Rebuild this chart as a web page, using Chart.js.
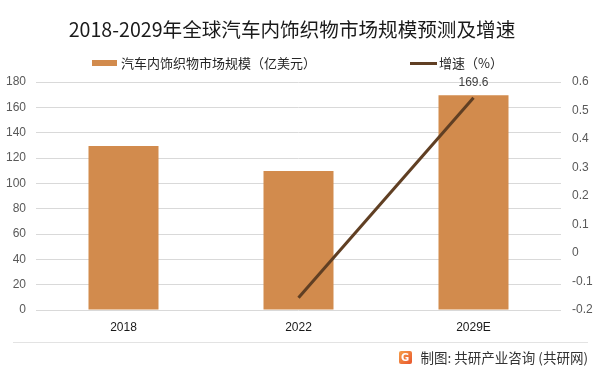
<!DOCTYPE html>
<html>
<head>
<meta charset="utf-8">
<script src="https://cdn.jsdelivr.net/npm/chart.js@4/dist/chart.umd.min.js"></script>
<style>
    body {
        margin: 0;
        background: #fff;
        font-family: "Noto Sans CJK SC", "Noto Sans", sans-serif;
    }

    .wrap {
        position: relative;
        width: 601px;
        height: 374px;
        overflow: hidden;
    }

    .title {
        position: absolute;
        left: 0;
        width: 584px;
        top: 16px;
        text-align: center;
        font-size: 19.6px;
        color: #1a1a1a;
        line-height: 26px;
    }

    .legend-item {
        position: absolute;
        top: 54px;
        font-size: 13px;
        color: #262626;
        line-height: 18px;
        display: flex;
        align-items: center;
    }

    .legend-item .box {
        width: 25px;
        height: 6px;
        background: #D28B4D;
        margin-right: 4px;
    }

    .legend-item .ln {
        width: 27px;
        height: 3px;
        background: #603F23;
        margin-right: 2px;
    }

    .sep {
        position: absolute;
        left: 13px;
        width: 575px;
        top: 342px;
        height: 1px;
        background: #e3e3e3;
    }

    .credit {
        position: absolute;
        right: 13px;
        top: 348px;
        font-size: 13.5px;
        color: #333;
        line-height: 18px;
        display: flex;
        align-items: center;
    }

    .logo {
        width: 13px;
        height: 13px;
        border-radius: 2px;
        background: linear-gradient(135deg, #f6a04a, #e8552d);
        color: #fff;
        font-size: 10px;
        font-weight: bold;
        line-height: 13px;
        text-align: center;
        margin-right: 9px;
        font-family: "DejaVu Sans", sans-serif;
    }

    canvas {
        position: absolute;
        left: 0;
        top: 0;
    }
</style>
</head>
<body>
<div class="wrap">
    <canvas id="chart" width="601" height="374"></canvas>
    <div class="title">2018-2029年全球汽车内饰织物市场规模预测及增速</div>
    <div class="legend-item" style="left:92px"><span class="box"></span>汽车内饰织物市场规模（亿美元）</div>
    <div class="legend-item" style="left:410px"><span class="ln"></span>增速（%）</div>
    <div class="sep"></div>
    <div class="credit"><span class="logo">G</span>制图: 共研产业咨询 (共研网)</div>
</div>
<script>
const years = ['2018', '2022', '2029E'];
const marketSize = [129.5, 109.7, 169.6];
const growthRate = [null, -0.157, 0.545];
const leftTicks = [0, 180, 20];      // min, max, step
const rightTicks = [-0.2, 0.6, 0.1]; // min, max, step

// label on top of the last bar only
const topLabel = {
    id: 'topLabel',
    afterDatasetsDraw(chart) {
        const ctx = chart.ctx;
        const meta = chart.getDatasetMeta(1);
        const i = marketSize.length - 1;
        const bar = meta.data[i];
        ctx.save();
        ctx.fillStyle = '#404040';
        ctx.font = '12px "Liberation Sans", Arial, sans-serif';
        ctx.textAlign = 'center';
        ctx.textBaseline = 'bottom';
        ctx.fillText(marketSize[i].toFixed(1), bar.x, bar.y - 6);
        ctx.restore();
    }
};

const tickFont = { family: '"Liberation Sans", Arial, sans-serif', size: 12 };

new Chart(document.getElementById('chart'), {
    data: {
        labels: years,
        datasets: [{
            type: 'line',
            label: '增速（%）',
            data: growthRate,
            yAxisID: 'y1',
            borderColor: '#603F23',
            borderWidth: 3,
            pointRadius: 0,
            fill: false,
            order: 0
        }, {
            type: 'bar',
            label: '汽车内饰织物市场规模（亿美元）',
            data: marketSize,
            yAxisID: 'y',
            backgroundColor: '#D28B4D',
            categoryPercentage: 1,
            barPercentage: 0.4,
            order: 1
        }]
    },
    options: {
        responsive: false,
        animation: false,
        layout: {
            padding: { top: 82, left: 0, right: 0, bottom: 0 }
        },
        plugins: {
            legend: { display: false },
            tooltip: { enabled: false }
        },
        scales: {
            x: {
                grid: { display: false, drawTicks: false },
                border: { display: false },
                ticks: { color: '#1a1a1a', font: tickFont, padding: 10 },
                afterFit(s) { s.height = 64; }
            },
            y: {
                position: 'left',
                min: leftTicks[0],
                max: leftTicks[1],
                grid: { color: '#d9d9d9', drawTicks: false },
                border: { display: false },
                ticks: { stepSize: leftTicks[2], color: '#595959', font: tickFont, padding: 10 },
                afterFit(s) { s.width = 36; }
            },
            y1: {
                position: 'right',
                min: rightTicks[0],
                max: rightTicks[1],
                grid: { display: false, drawTicks: false },
                border: { display: false },
                ticks: {
                    stepSize: rightTicks[2],
                    color: '#595959',
                    font: tickFont,
                    padding: 11,
                    callback: v => String(Math.round(v * 10) / 10)
                },
                afterFit(s) { s.width = 40; }
            }
        }
    },
    plugins: [topLabel]
});
</script>
</body>
</html>
